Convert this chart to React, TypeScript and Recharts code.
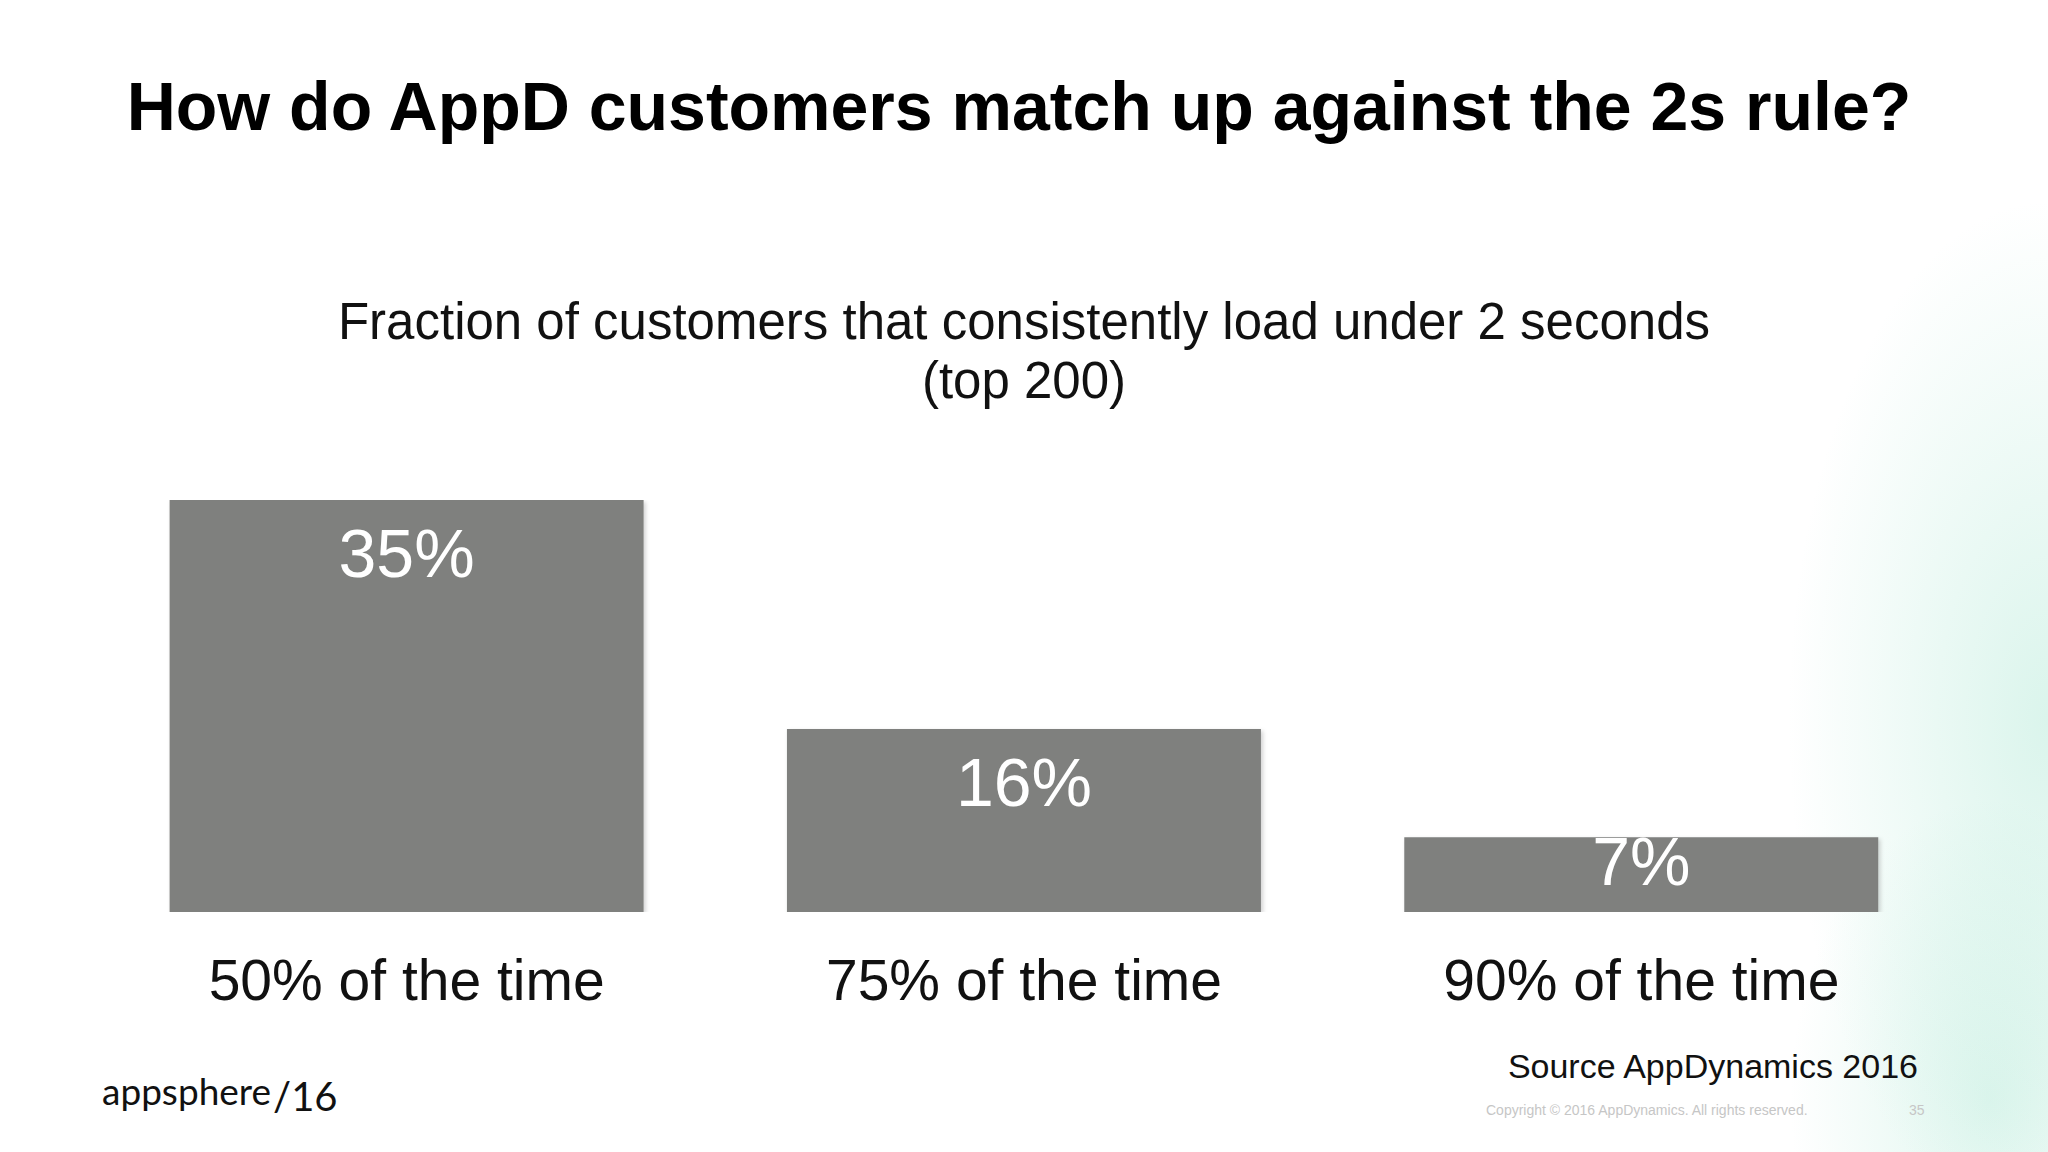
import React from "react";
import { BarChart, Bar, XAxis, YAxis, LabelList } from "recharts";

const categories = ["50% of the time", "75% of the time", "90% of the time"];
const shares = [35, 16, 7];

const FONT = '"Liberation Sans", Arial, Helvetica, sans-serif';

const data = categories.map((name, i) => ({ name, share: shares[i] }));

function CategoryTick(props: any) {
  const { x, y, payload } = props;
  return (
    <text
      x={x}
      y={y + 68}
      textAnchor="middle"
      dominantBaseline="central"
      fontFamily={FONT}
      fontSize={57}
      fill="#111"
    >
      {payload.value}
    </text>
  );
}

function ValueLabel(props: any) {
  const { x, y, width, height, value } = props;
  // label sits near the top of the bar, but stays inside short bars
  const cy = Math.min(y + 53, y + height - 51);
  return (
    <text
      x={x + width / 2}
      y={cy}
      textAnchor="middle"
      dominantBaseline="central"
      fontFamily={FONT}
      fontSize={68}
      fill="#ffffff"
    >
      {value}%
    </text>
  );
}

export default function App() {
  return (
    <div
      style={{
        position: "absolute",
        left: 0,
        top: 0,
        width: 2048,
        height: 1152,
        overflow: "hidden",
        fontFamily: FONT,
        background:
          "radial-gradient(ellipse 260px 520px at 2048px 720px, rgba(150,225,200,0.35), rgba(255,255,255,0) 100%), radial-gradient(ellipse 200px 300px at 1990px 1100px, rgba(150,225,200,0.3), rgba(255,255,255,0) 100%), #ffffff",
      }}
    >
      <div
        style={{
          position: "absolute",
          top: 66,
          left: 0,
          width: 2048,
          textAlign: "center",
          fontSize: 68,
          fontWeight: 700,
          color: "#000",
          lineHeight: "80px",
        }}
      >
        <span style={{ position: "relative", left: -5 }}>
          How do AppD customers match up against the 2s rule?
        </span>
      </div>

      <div
        style={{
          position: "absolute",
          top: 292,
          left: 0,
          width: 2048,
          textAlign: "center",
          fontSize: 51,
          color: "#111",
          lineHeight: "59px",
        }}
      >
        Fraction of customers that consistently load under 2 seconds
        <br />
        (top 200)
      </div>

      <div style={{ position: "absolute", left: 0, top: 0 }}>
        <BarChart
          width={2048}
          height={1152}
          data={data}
          margin={{ top: 500, right: 98, bottom: 0, left: 98 }}
          barCategoryGap="11.6%"
        >
          <defs>
            <filter id="barShadow" x="-5%" y="-5%" width="110%" height="110%">
              <feDropShadow dx="2" dy="2" stdDeviation="2" floodColor="#000" floodOpacity="0.18" />
            </filter>
          </defs>
          <XAxis
            dataKey="name"
            axisLine={false}
            tickLine={false}
            tickSize={0}
            tickMargin={0}
            height={240}
            interval={0}
            tick={<CategoryTick />}
          />
          <YAxis hide domain={[0.8, 35]} allowDataOverflow />
          <Bar
            dataKey="share"
            fill="#7f807e"
            isAnimationActive={false}
            style={{ filter: "url(#barShadow)" }}
          >
            <LabelList dataKey="share" content={<ValueLabel />} />
          </Bar>
        </BarChart>
      </div>

      <div
        style={{
          position: "absolute",
          right: 130,
          top: 1046,
          fontSize: 34,
          color: "#111",
          lineHeight: "40px",
          whiteSpace: "nowrap",
        }}
      >
        Source AppDynamics 2016
      </div>

      <div
        style={{
          position: "absolute",
          left: 1486,
          top: 1102,
          fontSize: 14,
          color: "#c6c6c6",
          whiteSpace: "nowrap",
        }}
      >
        Copyright © 2016 AppDynamics. All rights reserved.
      </div>
      <div
        style={{
          position: "absolute",
          left: 1909,
          top: 1102,
          fontSize: 14,
          color: "#c6c6c6",
        }}
      >
        35
      </div>

      <div
        style={{
          position: "absolute",
          left: 102,
          top: 1070,
          fontFamily: '"Lato", "Noto Sans", sans-serif',
          fontSize: 37,
          color: "#111",
          whiteSpace: "nowrap",
          lineHeight: "40px",
        }}
      >
        appsphere
        <span style={{ fontSize: 40, position: "relative", top: 6, marginLeft: 2 }}>/16</span>
      </div>
    </div>
  );
}
